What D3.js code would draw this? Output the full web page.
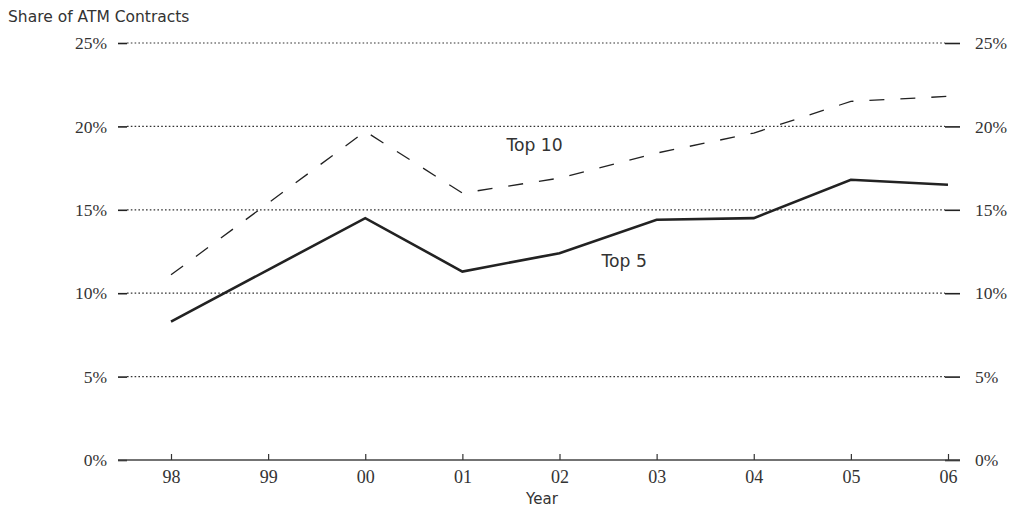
<!DOCTYPE html>
<html><head><meta charset="utf-8">
<script src="https://cdn.jsdelivr.net/npm/d3@7"></script>
<style>
body{margin:0;background:#fff;}
svg{display:block;}
</style></head>
<body>
<svg id="chart" width="1019" height="509"></svg>
<script>
const years = ["98","99","00","01","02","03","04","05","06"];
const top5  = [8.3, 11.4, 14.5, 11.3, 12.4, 14.4, 14.5, 16.8, 16.5];
const top10 = [11.1, 15.4, 19.7, 16.0, 16.9, 18.4, 19.6, 21.5, 21.8];
const yTicks = [0, 5, 10, 15, 20, 25];
const yTickLabels = ["0%","5%","10%","15%","20%","25%"];
const seriesNames = ["Top 5","Top 10"];
const yTitle = "Share of ATM Contracts";
const xTitle = "Year";

const svg = d3.select("#chart");
const x = d3.scalePoint().domain(years).range([171, 948]);
const y = d3.scaleLinear().domain([0, 25]).range([460, 43]);
const serif = "'Liberation Serif','Times New Roman',serif";
const sans = "'DejaVu Sans','Noto Sans',sans-serif";

// gridlines
svg.append("g").selectAll("line").data(yTicks.filter(d=>d>0)).join("line")
  .attr("x1", 127).attr("x2", 945)
  .attr("y1", d=>y(d)).attr("y2", d=>y(d))
  .attr("stroke", "#333").attr("stroke-width", 1.2)
  .attr("stroke-dasharray", "1.6,2.2");

// left axis
const la = svg.append("g").attr("transform","translate(127,0)")
  .call(d3.axisLeft(y).tickValues(yTicks).tickFormat((d,i)=>yTickLabels[i]).tickSize(9).tickPadding(11));
// right axis
const ra = svg.append("g").attr("transform","translate(945,0)")
  .call(d3.axisRight(y).tickValues(yTicks).tickFormat((d,i)=>yTickLabels[i]).tickSize(15).tickPadding(15));
[la, ra].forEach(g=>{
  g.select(".domain").remove();
  g.selectAll(".tick line").attr("stroke","#222").attr("stroke-width",1.6);
  g.selectAll("text").style("font-family", serif).style("font-size", "17.5px").attr("fill","#333");
});

// bottom axis
svg.append("line").attr("x1",118).attr("x2",960).attr("y1",y(0)).attr("y2",y(0))
  .attr("stroke","#444").attr("stroke-width",1.5);
const ba = svg.append("g").attr("transform",`translate(0,${y(0)})`)
  .call(d3.axisBottom(x).tickSizeInner(-6).tickSizeOuter(0).tickPadding(10));
ba.select(".domain").remove();
ba.selectAll(".tick line").attr("stroke","#333").attr("stroke-width",1.2);
ba.selectAll("text").style("font-family", serif).style("font-size", "18px").attr("fill","#333");

// lines
const line = d3.line().x((d,i)=>x(years[i])).y(d=>y(d));
svg.append("path").datum(top10).attr("d", line)
  .attr("fill","none").attr("stroke","#222").attr("stroke-width",1.3)
  .attr("stroke-dasharray","15,16");
svg.append("path").datum(top5).attr("d", line)
  .attr("fill","none").attr("stroke","#222").attr("stroke-width",2.6)
  .attr("stroke-linejoin","miter");

// series labels
svg.append("text").attr("x", x("01") + 44).attr("y", y(18.54))
  .attr("font-family", sans).attr("font-size", 17.2).attr("fill","#333").text(seriesNames[1]);
svg.append("text").attr("x", x("02") + 42).attr("y", y(11.57))
  .attr("font-family", sans).attr("font-size", 17.2).attr("fill","#333").text(seriesNames[0]);

// titles
svg.append("text").attr("x", 8).attr("y", 22)
  .attr("font-family", sans).attr("font-size", 15.5).attr("fill","#333").text(yTitle);
svg.append("text").attr("x", 542).attr("y", 504).attr("text-anchor","middle")
  .attr("font-family", sans).attr("font-size", 15).attr("fill","#333").text(xTitle);
</script>
</body></html>
